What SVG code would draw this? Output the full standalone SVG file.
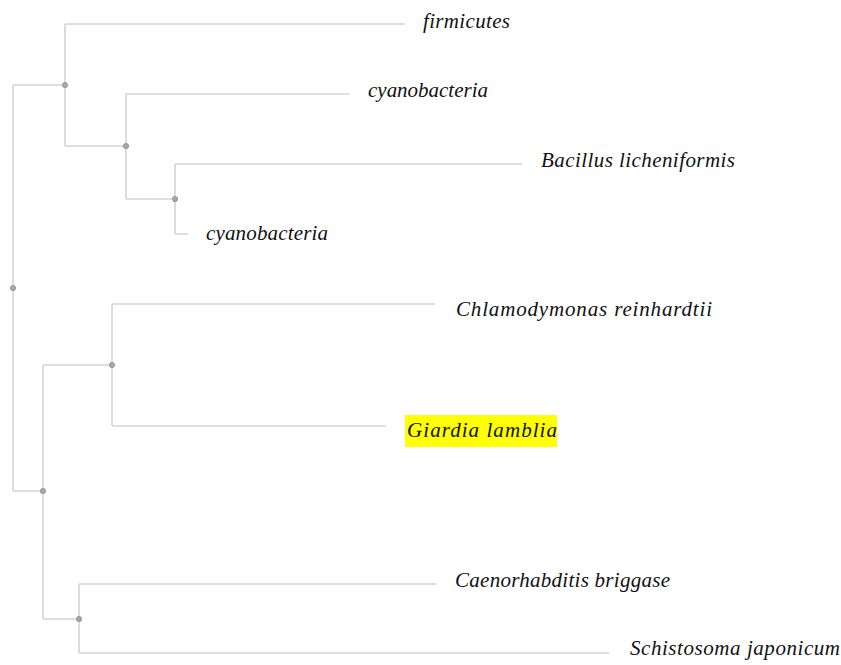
<svg xmlns="http://www.w3.org/2000/svg" width="841" height="665" viewBox="0 0 841 665">
<style>
.e{fill:none;stroke:#d4d4d4;stroke-width:1.6}
.n{fill:#a8a8a8;stroke:#8c8c8c;stroke-width:0.8}
.t{font-family:"Liberation Serif","Times New Roman",serif;font-style:italic;font-size:21px;fill:#111}
</style>
<rect width="841" height="665" fill="#fff"/>
<g id="connectors">
<path class="e" d="M13,85V491M13,85H65M13,491H43"/>
<path class="e" d="M65,24V146M65,24H405M65,146H126"/>
<path class="e" d="M126,94V199M126,94H349M126,199H175"/>
<path class="e" d="M175,164V234M175,164H522M175,234H188"/>
<path class="e" d="M43,365V619M43,365H112M43,619H79"/>
<path class="e" d="M112,304V426M112,304H435M112,426H386"/>
<path class="e" d="M79,584V653M79,584H436M79,653H609"/>
</g>
<g id="inner-nodes">
<circle id="n-root" class="n" cx="13" cy="288" r="2.6"/>
<circle id="n-a" class="n" cx="65" cy="85" r="2.6"/>
<circle id="n-b" class="n" cx="126" cy="146" r="2.6"/>
<circle id="n-c" class="n" cx="175" cy="199" r="2.6"/>
<circle id="n-d" class="n" cx="43" cy="491" r="2.6"/>
<circle id="n-e" class="n" cx="112" cy="365" r="2.6"/>
<circle id="n-f" class="n" cx="79" cy="619" r="2.6"/>
</g>
<g id="leaf-firmicutes"><text class="t" x="423" y="28" textLength="87">firmicutes</text></g>
<g id="leaf-cyanobacteria-1"><text class="t" x="368" y="97" textLength="120">cyanobacteria</text></g>
<g id="leaf-bacillus"><text class="t" x="541" y="167" textLength="194">Bacillus licheniformis</text></g>
<g id="leaf-cyanobacteria-2"><text class="t" x="206" y="240" textLength="122">cyanobacteria</text></g>
<g id="leaf-chlamydomonas"><text class="t" x="456" y="316" textLength="256">Chlamodymonas reinhardtii</text></g>
<g id="leaf-giardia"><rect x="405" y="415" width="152" height="32" fill="#ffff00"/><text class="t" x="407" y="437" textLength="150">Giardia lamblia</text></g>
<g id="leaf-caenorhabditis"><text class="t" x="455" y="587" textLength="215">Caenorhabditis briggase</text></g>
<g id="leaf-schistosoma"><text class="t" x="630" y="655" textLength="210">Schistosoma japonicum</text></g>
</svg>
